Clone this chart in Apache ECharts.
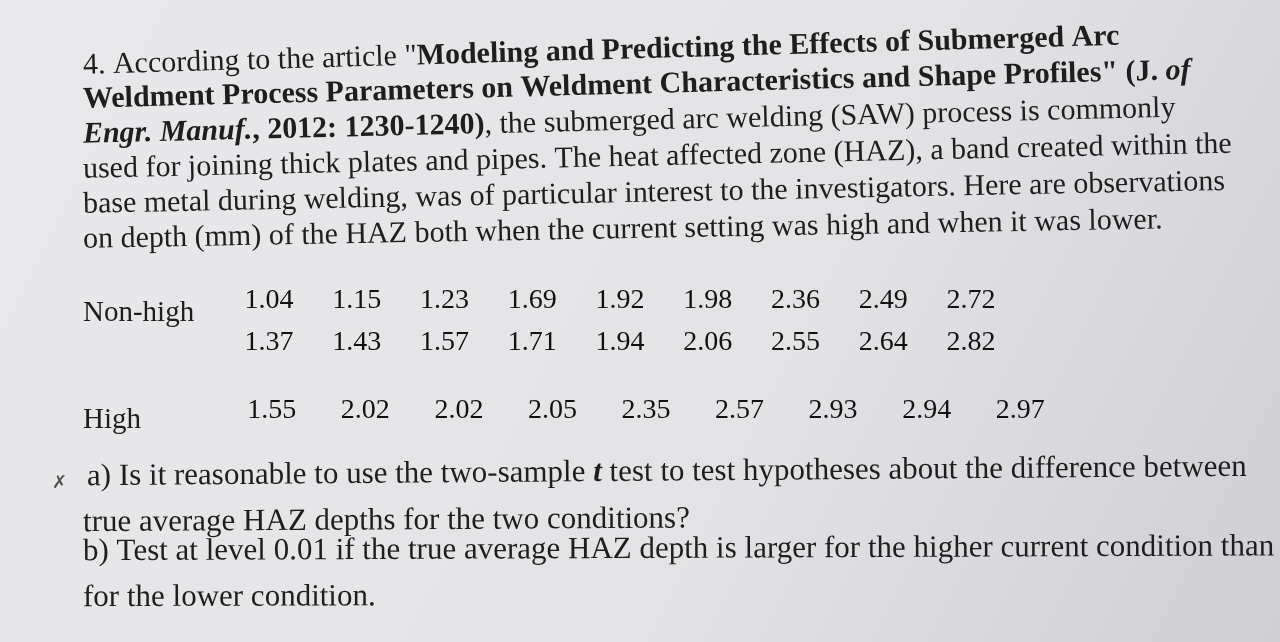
<!DOCTYPE html>
<html><head><meta charset="utf-8">
<script src="https://cdn.jsdelivr.net/npm/echarts@6/dist/echarts.min.js"></script>
<style>html,body{margin:0;padding:0}#c{width:1280px;height:642px}</style>
</head><body><div id="c"></div>
<script>
// observations of HAZ depth (mm)
const nonHighRow1 = [1.04, 1.15, 1.23, 1.69, 1.92, 1.98, 2.36, 2.49, 2.72];
const nonHighRow2 = [1.37, 1.43, 1.57, 1.71, 1.94, 2.06, 2.55, 2.64, 2.82];
const highRow = [1.55, 2.02, 2.02, 2.05, 2.35, 2.57, 2.93, 2.94, 2.97];
const cols = ['1', '2', '3', '4', '5', '6', '7', '8', '9'];

const serif = '"Liberation Serif", "DejaVu Serif", serif';
const ink = '#1e1e1e';
const fs = 30;

const chart = echarts.init(document.getElementById('c'));

function line(x, y, rot, parts, size) {
    const s = size || fs;
    const rich = {n: {fontFamily: serif, fontSize: s, fill: ink}, b: {fontFamily: serif, fontSize: s, fontWeight: 'bold', fill: ink},
        bi: {fontFamily: serif, fontSize: s, fontWeight: 'bold', fontStyle: 'italic', fill: ink}};
    return {
        type: 'text', x: x, y: y, rotation: rot,
        style: {
            text: parts.map(p => '{' + (p[1] || 'n') + '|' + p[0] + '}').join(''),
            rich: rich, textVerticalAlign: 'middle', fill: ink
        }
    };
}

const cell = (row, vals) => vals.map((v, i) => [cols[i], row, v.toFixed(2)]);

function rowSeries(idx, data) {
    return {
        type: 'scatter', xAxisIndex: idx, yAxisIndex: idx, symbolSize: 0,
        data: data,
        emphasis: {disabled: true},
        label: {show: true, position: 'inside', formatter: p => p.value[2],
            fontFamily: serif, fontSize: 28, color: '#111', textBorderWidth: 0, opacity: 1}
    };
}

const hidden = {show: false};
chart.setOption({
    backgroundColor: {
        type: 'linear', x: 0, y: 0, x2: 1, y2: 1,
        colorStops: [{offset: 0, color: '#e9e9ec'}, {offset: 0.6, color: '#e3e3e6'}, {offset: 1, color: '#cfcfd3'}]
    },
    grid: [
        {left: 225, width: 790, top: 280, height: 84},
        {left: 225, width: 842, top: 390, height: 42}
    ],
    xAxis: [
        {type: 'category', data: cols, gridIndex: 0, ...hidden},
        {type: 'category', data: cols, gridIndex: 1, ...hidden}
    ],
    yAxis: [
        {type: 'category', data: ['r1', 'r2'], inverse: true, gridIndex: 0, ...hidden},
        {type: 'category', data: ['r1'], gridIndex: 1, ...hidden}
    ],
    series: [
        rowSeries(0, cell('r1', nonHighRow1).concat(cell('r2', nonHighRow2))),
        rowSeries(1, cell('r1', highRow))
    ],
    graphic: [
        line(83, 66, 0.028, [['4. According to the article "'], ['Modeling and Predicting the Effects of Submerged Arc', 'b']]),
        line(83, 100, 0.026, [['Weldment Process Parameters on Weldment Characteristics and Shape Profiles" (J. ', 'b'], ['of', 'bi']]),
        line(83, 135, 0.024, [['Engr. Manuf.', 'bi'], [', 2012: 1230-1240)', 'b'], [', the submerged arc welding (SAW) process is commonly']]),
        line(83, 170, 0.022, [['used for joining thick plates and pipes. The heat affected zone (HAZ), a band created within the']]),
        line(83, 205, 0.02, [['base metal during welding, was of particular interest to the investigators. Here are observations']]),
        line(83, 240, 0.018, [['on depth (mm) of the HAZ both when the current setting was high and when it was lower.']]),
        line(83, 313, 0, [['Non-high']], 29),
        line(83, 420, 0, [['High']], 29),
        line(87, 477, 0.008, [['a) Is it reasonable to use the two-sample '], ['t', 'bi'], [' test to test hypotheses about the difference between']], 31),
        line(83, 523, 0.006, [['true average HAZ depths for the two conditions?']], 31),
        line(83, 552, 0.004, [['b) Test at level 0.01 if the true average HAZ depth is larger for the higher current condition than']], 31),
        line(83, 598, 0.003, [['for the lower condition.']], 31),
        {type: 'text', x: 52, y: 474, style: {text: '✗', fontSize: 18, fill: '#555'}}
    ]
});
</script></body></html>
